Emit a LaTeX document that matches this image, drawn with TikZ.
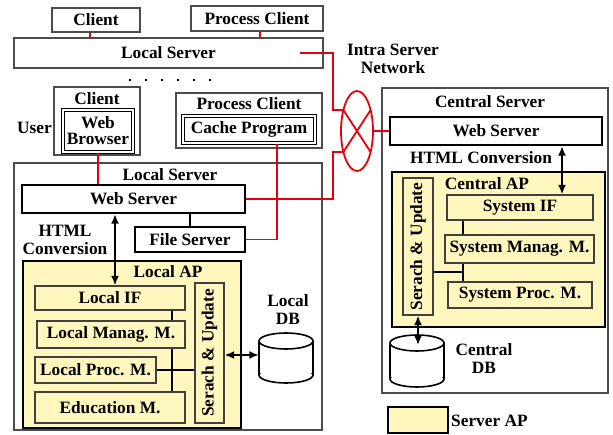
\documentclass[tikz,border=0pt]{standalone}
\usepackage{fontspec}
\setmainfont{Liberation Serif}
\usetikzlibrary{shapes.geometric,arrows.meta}
\definecolor{apyellow}{RGB}{255,247,190}
\definecolor{netred}{RGB}{230,0,10}
\tikzset{
  outerbox/.style={draw=black!70, line width=1.4pt, fill=white, inner sep=0pt},
  thickbox/.style={draw=black, line width=2.4pt, fill=white, inner sep=0pt},
  dblbox/.style={draw=black, line width=1.3pt, double=white, double distance=1.1pt, inner sep=0pt},
  apbox/.style={draw=black, line width=2.4pt, fill=apyellow, inner sep=0pt},
  modbox/.style={draw=black!75, line width=1.3pt, fill=apyellow, inner sep=0pt},
  lbl/.style={inner sep=0pt, align=center},
  redline/.style={draw=netred, line width=1.8pt},
  blkline/.style={draw=black, line width=1.5pt},
  dblarrow/.style={draw=black, line width=1.7pt, {Latex[length=9.5pt,width=8pt]}-{Latex[length=9.5pt,width=8pt]}},
  dbline/.style={draw=black, line width=1.6pt},
}
\begin{document}
\begin{tikzpicture}[x=1pt, y=-1pt, font=\fontsize{17.3}{18}\selectfont\bfseries]
\useasboundingbox (0,0) rectangle (613,435);

% ---- top row
\node[outerbox, minimum width=88, minimum height=24] (cl1) at (96,20) {Client};
\node[outerbox, minimum width=132, minimum height=25] (pc1) at (257,18.5) {Process Client};
\node[outerbox, minimum width=309, minimum height=30] (ls1) at (168.5,53) {Local Server};

% dots
\foreach \xx in {130,146,162,178,194,210} \fill (\xx-1.2,78.8) rectangle (\xx+1.2,81.2);

% ---- client with browser
\node[outerbox, minimum width=86, minimum height=68] (cl2) at (97,121) {};
\node[lbl] (cl2t) at (97,99) {Client};
\node[dblbox, minimum width=70, minimum height=42, align=center, font=\fontsize{17.3}{17}\selectfont\bfseries] (wb) at (98,131) {Web\\[-1pt]Browser};
\node[lbl, anchor=east] (user) at (52,128) {User};

% ---- process client with cache program
\node[outerbox, minimum width=146, minimum height=55] (pc2) at (249,120.5) {};
\node[lbl] (pc2t) at (249,104) {Process Client};
\node[dblbox, minimum width=132, minimum height=27] (cp) at (249,129.5) {Cache Program};

% ---- Local server
\node[outerbox, minimum width=308, minimum height=267] (lsv) at (168,296.5) {};
\node[lbl] (lsvt) at (170,175) {Local Server};
\node[thickbox, minimum width=223, minimum height=28] (lws) at (133.5,199) {Web Server};
\node[thickbox, minimum width=110, minimum height=25] (fs) at (190,239.5) {File Server};
\node[lbl] (html1) at (65,240) {HTML\\Conversion};

\node[apbox, minimum width=218, minimum height=167] (lap) at (132,344.5) {};
\node[lbl] (lapt) at (168,272) {Local AP};
\node[modbox, minimum width=150, minimum height=24] (lif) at (110,298) {Local IF};
\node[modbox, minimum width=148, minimum height=27] (lmm) at (111,334.5) {Local Manag. M.};
\node[modbox, minimum width=121, minimum height=26] (lpm) at (95.5,370) {Local Proc. M.};
\node[modbox, minimum width=150, minimum height=31] (edu) at (110,407.5) {Education M.};
\node[modbox, minimum width=29, minimum height=140] (lsu) at (209.5,353) {};
\node[lbl, rotate=90] (lsut) at (209.5,353) {Serach \& Update};

% local DB cylinder
\node[inner sep=0pt, minimum width=54, minimum height=50] (ldb) at (286,358) {};
\fill[white] (259,341) rectangle (313,375);
\draw[dbline] (259,341) -- (259,375) (313,341) -- (313,375);
\draw[dbline, fill=white] (286,375) ellipse [x radius=27, y radius=8];
\fill[white] (259,341) rectangle (313,373);
\draw[dbline] (259,341) -- (259,375) (313,341) -- (313,375);
\draw[dbline, fill=white] (286,341) ellipse [x radius=27, y radius=8];
\node[lbl] (ldbt) at (288,310) {Local\\DB};

% local connectors
\coordinate (ha) at (115,0);
\draw[dblarrow] (ha |- lws.south) -- (ha |- lif.north);
\draw[blkline] (fs.north) -- (fs.north |- lws.south);
\coordinate (v1) at (172,0);
\draw[blkline] (v1 |- lif.south) -- (v1 |- lmm.north);
\draw[blkline] (v1 |- lmm.south) -- (v1 |- edu.north);
\draw[blkline] (lpm.east) -- (lpm.east -| lsu.west);
\coordinate (ya) at (0,355);
\draw[dblarrow] (lsu.east |- ya) -- (ldb.west |- ya);

% ---- Central server
\node[outerbox, minimum width=226, minimum height=305] (csv) at (495,240.5) {};
\node[lbl] (csvt) at (490,102) {Central Server};
\node[thickbox, minimum width=212, minimum height=28] (cws) at (496,131) {Web Server};
\node[lbl] (html2) at (481,158) {HTML Conversion};
\node[apbox, minimum width=213, minimum height=155] (cap) at (498.5,249.5) {};
\node[lbl] (capt) at (487,184) {Central AP};
\node[modbox, minimum width=30, minimum height=137] (csu) at (418,246.5) {};
\node[lbl, rotate=90] (csut) at (418,246.5) {Serach \& Update};
\node[modbox, minimum width=146, minimum height=25] (sif) at (520,207.5) {System IF};
\node[modbox, minimum width=149, minimum height=28] (smm) at (519.5,249) {System Manag. M.};
\node[modbox, minimum width=144, minimum height=26] (spm) at (520,295) {System Proc. M.};

\coordinate (hb) at (562,0);
\draw[dblarrow] (hb |- cws.south) -- (hb |- sif.north);
\coordinate (v2) at (463,0);
\draw[blkline] (v2 |- sif.south) -- (v2 |- smm.north);
\draw[blkline] (v2 |- smm.south) -- (v2 |- spm.north);
\draw[blkline] (csu.east |- 0,272) -- (v2 |- 0,272);

% central DB cylinder
\node[inner sep=0pt, minimum width=54, minimum height=52] (cdb) at (417,361) {};
\fill[white] (390,343) rectangle (444,379);
\draw[dbline] (390,343) -- (390,379) (444,343) -- (444,379);
\draw[dbline, fill=white] (417,379) ellipse [x radius=27, y radius=8];
\fill[white] (390,343) rectangle (444,377);
\draw[dbline] (390,343) -- (390,379) (444,343) -- (444,379);
\draw[dbline, fill=white] (417,343) ellipse [x radius=27, y radius=8];
\coordinate (cdbtop) at (418,345);
\draw[dblarrow] (csu.south -| cdbtop) -- (cdbtop);
\node[lbl] (cdbt) at (484,359) {Central\\DB};

% ---- network
\node[draw=netred, line width=1.8pt, ellipse, minimum width=32, minimum height=80, inner sep=0pt] (net) at (357,131) {};
\draw[redline] (343.4,110) -- (370.6,152);
\draw[redline] (370.6,110) -- (343.4,152);
\node[lbl] (nett) at (393,59) {Intra Server\\Network};

\coordinate (r1) at (300,53);
\draw[redline] (90,0 |- cl1.south) -- (90,0 |- ls1.north);
\draw[redline] (260,0 |- pc1.south) -- (260,0 |- ls1.north);
\draw[redline] (r1) -| (333,110) -- (343.4,110);
\draw[redline] (net.east) -- (cws.west);
\draw[redline] (lws.east) -- (333,199) |- (343.4,152);
\draw[redline] (wb.south) -- (wb.south |- lws.north);
\draw[redline] (277,0 |- cp.south) |- (fs.east);

% ---- legend
\node[apbox, line width=2pt, minimum width=60, minimum height=26] (leg) at (418,420) {};
\node[lbl, anchor=west] (legt) at (451,421) {Server AP};
\end{tikzpicture}
\end{document}
